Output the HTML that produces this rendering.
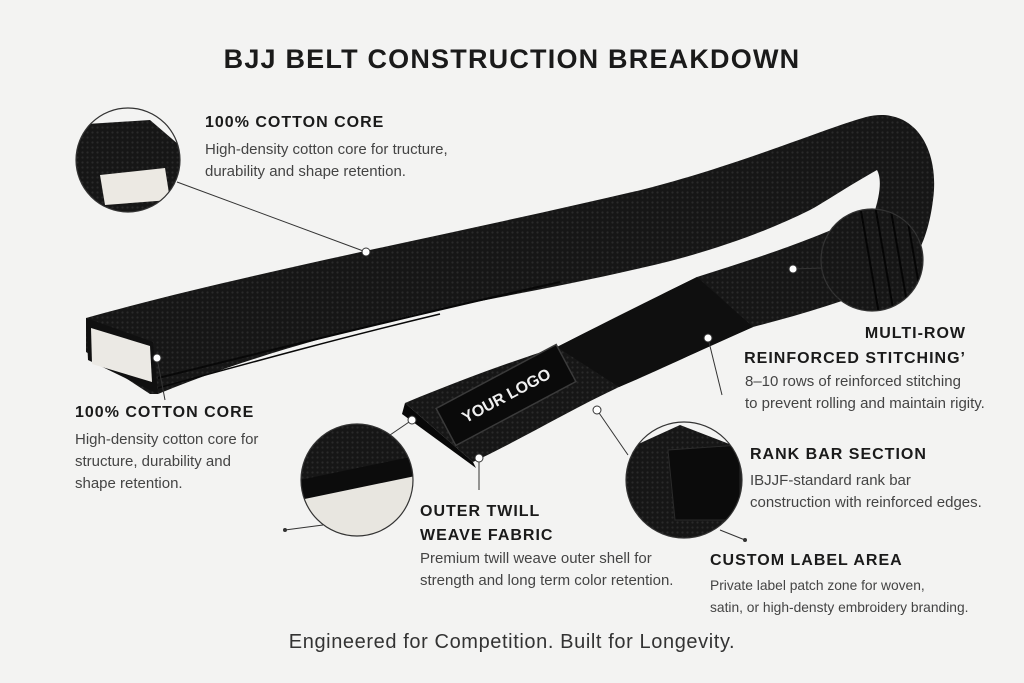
<!DOCTYPE html>
<html><head><meta charset="utf-8"><style>
html,body{margin:0;padding:0;}
body{width:1024px;height:683px;background:#f3f3f2;position:relative;overflow:hidden;font-family:"Liberation Sans",sans-serif;}
.t{position:absolute;white-space:nowrap;}
.h{font-weight:bold;font-size:16px;color:#1a1a1a;letter-spacing:1px;}
.d{font-size:15px;color:#444;line-height:22px;}
</style></head><body>
<svg width="1024" height="683" style="position:absolute;left:0;top:0">
<defs>
<pattern id="wv" width="5" height="5" patternUnits="userSpaceOnUse"><rect width="5" height="5" fill="#161616"/><circle cx="2.5" cy="2.5" r="1.1" fill="#2a2a2a"/></pattern>
<clipPath id="c1"><circle cx="128" cy="160" r="52"/></clipPath>
<clipPath id="c2"><circle cx="872" cy="260" r="51"/></clipPath>
<clipPath id="c3"><circle cx="357" cy="480" r="56"/></clipPath>
<clipPath id="c4"><circle cx="684" cy="480" r="58"/></clipPath>
</defs>
<!-- upper belt -->
<path d="M86,318 C250,272 450,235 641,190 C740,165 820,130 866,117 C915,105 940,150 933,200 C928,240 915,262 898,280 L860,250 C875,215 885,185 877,170 C850,185 820,205 810,210 C760,235 700,255 641,268 C560,287 480,300 417,314 C330,335 240,360 158,394 L150,394 L86,352 Z" fill="url(#wv)"/>
<path d="M158,378 C280,348 400,318 560,282" stroke="#080808" stroke-width="2" fill="none"/>
<path d="M158,388 C260,360 340,338 440,314" stroke="#080808" stroke-width="1.5" fill="none"/>
<path d="M86,318 L153,342 L158,394 L88,360 Z" fill="#101010"/>
<path d="M91,328 L150,346 L152,382 L92,364 Z" fill="#ebe9e4"/>
<!-- lower strip -->
<path d="M405,403 C460,380 510,362 557,347 C610,320 660,295 697,277 C750,260 800,245 866,215 L898,280 C850,300 800,315 753,327 C700,350 660,370 619,387 C570,410 520,440 473,462 Z" fill="url(#wv)"/>
<path d="M405,403 L473,462 L476,468 L402,414 Z" fill="#080808"/>
<path d="M557,347 L697,277 L753,327 L619,387 Z" fill="#0f0f0f"/>
<g transform="translate(506,395) rotate(-28)"><rect x="-68" y="-21" width="136" height="42" fill="#0a0a0a" stroke="#3a3a3a" stroke-width="1.5"/>
<text x="0" y="6" text-anchor="middle" fill="#f0f0f0" font-family="Liberation Sans" font-weight="bold" font-size="16">YOUR LOGO</text></g>
<!-- leader lines -->
<g stroke="#333" stroke-width="1" fill="none">
<line x1="177" y1="182" x2="366" y2="252"/>
<line x1="157" y1="358" x2="165" y2="400"/>
<line x1="793" y1="269" x2="822" y2="268"/>
<line x1="708" y1="338" x2="722" y2="395"/>
<line x1="597" y1="410" x2="628" y2="455"/>
<line x1="412" y1="420" x2="390" y2="435"/>
<line x1="479" y1="458" x2="479" y2="490"/>
<line x1="323" y1="525" x2="285" y2="530"/>
<line x1="720" y1="530" x2="745" y2="540"/>
</g>
<g fill="#fff" stroke="#333" stroke-width="1">
<circle cx="366" cy="252" r="4"/><circle cx="157" cy="358" r="4"/><circle cx="793" cy="269" r="4"/>
<circle cx="708" cy="338" r="4"/><circle cx="597" cy="410" r="4"/><circle cx="412" cy="420" r="4"/><circle cx="479" cy="458" r="4"/>
</g>
<circle cx="285" cy="530" r="2" fill="#333"/><circle cx="745" cy="540" r="2" fill="#333"/>
<!-- zoom circles -->
<g clip-path="url(#c1)"><rect x="70" y="100" width="120" height="120" fill="#f3f3f2"/><path d="M70,125 L150,120 L185,150 L180,215 L70,215 Z" fill="url(#wv)"/><path d="M100,175 L165,168 L170,200 L105,205 Z" fill="#ece9e3"/></g>
<circle cx="128" cy="160" r="52" fill="none" stroke="#333" stroke-width="1.2"/>
<g clip-path="url(#c2)"><rect x="815" y="205" width="120" height="120" fill="url(#wv)"/><g stroke="#050505" stroke-width="2"><line x1="860" y1="205" x2="880" y2="320"/><line x1="875" y1="205" x2="895" y2="320"/><line x1="890" y1="205" x2="910" y2="320"/><line x1="905" y1="205" x2="925" y2="320"/></g></g>
<circle cx="872" cy="260" r="51" fill="none" stroke="#333" stroke-width="1.2"/>
<g clip-path="url(#c3)"><rect x="300" y="420" width="120" height="120" fill="url(#wv)"/><path d="M300,495 L420,470 L420,545 L300,545 Z" fill="#e8e6e0"/><path d="M300,480 L420,455 L420,475 L300,500 Z" fill="#0c0c0c"/></g>
<circle cx="357" cy="480" r="56" fill="none" stroke="#333" stroke-width="1.2"/>
<g clip-path="url(#c4)"><rect x="625" y="420" width="120" height="120" fill="#f3f3f2"/><path d="M625,450 L680,425 L745,450 L745,540 L625,540 Z" fill="url(#wv)"/><path d="M668,450 L740,445 L740,520 L675,520 Z" fill="#0b0b0b" stroke="#2a2a2a"/></g>
<circle cx="684" cy="480" r="58" fill="none" stroke="#333" stroke-width="1.2"/>
</svg>
<div class="t" style="left:0;width:1024px;text-align:center;top:44px;font-size:27px;font-weight:bold;color:#1a1a1a;letter-spacing:1.2px">BJJ BELT CONSTRUCTION BREAKDOWN</div>
<div class="t h" style="left:205px;top:114px">100% COTTON CORE</div>
<div class="t d" style="left:205px;top:139px">High-density cotton core for tructure,<br>durability and shape retention.</div>
<div class="t h" style="left:75px;top:404px">100% COTTON CORE</div>
<div class="t d" style="left:75px;top:429px">High-density cotton core for<br>structure, durability and<br>shape retention.</div>
<div class="t h" style="right:58px;top:321px;text-align:right;line-height:25px">MULTI-ROW<br>REINFORCED STITCHING’</div>
<div class="t d" style="left:745px;top:371px">8–10 rows of reinforced stitching<br>to prevent rolling and maintain rigity.</div>
<div class="t h" style="left:750px;top:446px">RANK BAR SECTION</div>
<div class="t d" style="left:750px;top:470px">IBJJF-standard rank bar<br>construction with reinforced edges.</div>
<div class="t h" style="left:420px;top:500px;line-height:24px">OUTER TWILL<br>WEAVE FABRIC</div>
<div class="t d" style="left:420px;top:548px">Premium twill weave outer shell for<br>strength and long term color retention.</div>
<div class="t h" style="left:710px;top:552px">CUSTOM LABEL AREA</div>
<div class="t d" style="left:710px;top:575px;font-size:13.8px">Private label patch zone for woven,<br>satin, or high-densty embroidery branding.</div>
<div class="t" style="left:0;width:1024px;text-align:center;top:631px;font-size:20px;color:#333;letter-spacing:0.6px">Engineered for Competition. Built for Longevity.</div>
</body></html>
